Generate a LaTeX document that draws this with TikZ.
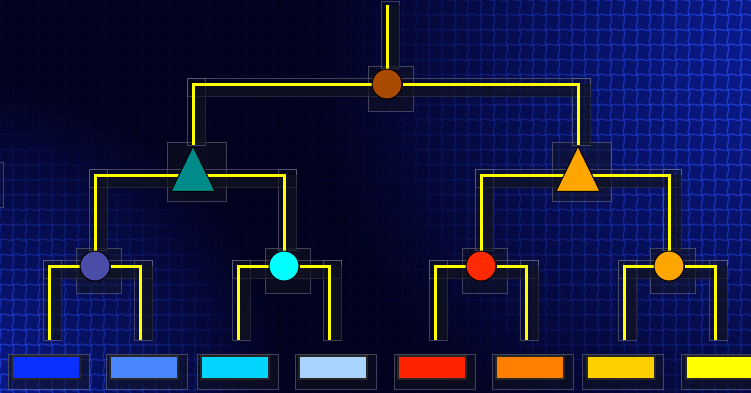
\documentclass[tikz,border=0pt]{standalone}
\usepackage{xcolor}
\usepackage{tikz}
\usetikzlibrary{positioning, calc, shapes.geometric}

\definecolor{bgdark}{HTML}{02021E}
\definecolor{glow}{HTML}{0B1C96}
\definecolor{meshblue}{HTML}{2446E8}
\definecolor{shd}{HTML}{12141F}
\definecolor{frm}{HTML}{7A7C94}
\definecolor{wireyel}{HTML}{FFFF00}
\definecolor{rootbrown}{HTML}{A84A00}
\definecolor{tealtri}{HTML}{008B8B}
\definecolor{orangetri}{HTML}{FFA500}
\definecolor{slatec}{HTML}{4A4CA8}
\definecolor{cyanc}{HTML}{00FFFF}
\definecolor{redc}{HTML}{FF2A00}
\definecolor{orangec}{HTML}{FFA500}
\definecolor{leafA}{HTML}{0A30FF}
\definecolor{leafB}{HTML}{4A86FF}
\definecolor{leafC}{HTML}{00D4FF}
\definecolor{leafD}{HTML}{A8D4FF}
\definecolor{leafE}{HTML}{FF2400}
\definecolor{leafF}{HTML}{FF7F00}
\definecolor{leafG}{HTML}{FFD000}
\definecolor{leafH}{HTML}{FFFF00}

\pgfdeclarelayer{back}
\pgfdeclarelayer{under}
\pgfsetlayers{back,under,main}

\begin{document}
\begin{tikzpicture}[
  x=0.5pt, y=-0.5pt,
  bub/.style={circle, draw=black, line width=0.5pt, minimum size=15pt, inner sep=0pt},
  tri/.style={isosceles triangle, shape border rotate=90, isosceles triangle stretches,
    draw=black, line width=0.5pt, minimum width=22pt, minimum height=22.5pt, inner sep=0pt, anchor=apex},
  leaf/.style={rectangle, draw=black!85, line width=1pt, minimum width=34pt, minimum height=11.5pt, inner sep=0pt},
  wire/.style={draw=wireyel, line width=1.5pt},
  band/.style={draw=shd, line width=6.5pt, opacity=0.6},
  frame/.style={draw=frm, line width=0.35pt, fill=shd, fill opacity=0.25, draw opacity=0.5},
  mesh/.style={draw=meshblue, line width=0.75pt}
]
  \useasboundingbox (0,0) rectangle (751,392);

  % background with mesh
  \begin{pgfonlayer}{back}
    \fill[bgdark] (-10,-10) rectangle (761,402);
    \shade[inner color=glow, outer color=bgdark] (790,50) circle[radius=480];
    \shade[inner color=glow, outer color=bgdark] (-40,410) circle[radius=330];
    \foreach \i in {0,...,58}{
      \foreach \j in {0,...,26}{
        \pgfmathsetmacro\mx{\i*13}
        \pgfmathsetmacro\my{\j*15}
        \pgfmathsetmacro\ma{0.85*max(0.04, 1-veclen(\mx-790,\my-50)/440, 1-veclen(\mx+40,\my-410)/300)}
        \draw[mesh, opacity=\ma] (\mx,\my) .. controls ({\mx+4},{\my-3}) and ({\mx+9},{\my+2}) .. ({\mx+13},\my);
        \draw[mesh, opacity=\ma] (\mx,\my) .. controls ({\mx+3},{\my+5}) and ({\mx-3},{\my+10}) .. (\mx,{\my+15});
      }
    }
  \end{pgfonlayer}

  % tree nodes
  \node[bub, fill=rootbrown] (root) at (387,84) {};
  \node[tri, fill=tealtri] (tl) at (193,145) {};
  \node[tri, fill=orangetri] (tr) at (578,145) {};
  \node[bub, fill=slatec] (c1) at (95,266) {};
  \node[bub, fill=cyanc] (c2) at (284,266) {};
  \node[bub, fill=redc] (c3) at (481,266) {};
  \node[bub, fill=orangec] (c4) at (669,266) {};

  % leaves
  \node[leaf, fill=leafA] (l1) at (46,367.5) {};
  \node[leaf, fill=leafB] (l2) at (144,367.5) {};
  \node[leaf, fill=leafC] (l3) at (235,367.5) {};
  \node[leaf, fill=leafD] (l4) at (333,367.5) {};
  \node[leaf, fill=leafE] (l5) at (432,367.5) {};
  \node[leaf, fill=leafF] (l6) at (530,367.5) {};
  \node[leaf, fill=leafG] (l7) at (620.5,367.5) {};
  \node[leaf, fill=leafH] (l8) at (719.5,367.5) {};

  % wire ends
  \coordinate (top) at (387,5);
  \coordinate (tlj) at ($(tl.apex)+(0,30)$);
  \coordinate (trj) at ($(tr.apex)+(0,30)$);
  \coordinate (b1) at ([xshift=1.5pt,yshift=7.5pt]l1.north);
  \coordinate (b2) at ([xshift=-2pt,yshift=7.5pt]l2.north);
  \coordinate (b3) at ([xshift=1.75pt,yshift=7.5pt]l3.north);
  \coordinate (b4) at ([xshift=-2pt,yshift=7.5pt]l4.north);
  \coordinate (b5) at ([xshift=1.5pt,yshift=7.5pt]l5.north);
  \coordinate (b6) at ([xshift=-2pt,yshift=7.5pt]l6.north);
  \coordinate (b7) at ([xshift=1.75pt,yshift=7.5pt]l7.north);
  \coordinate (b8) at ([xshift=-2.25pt,yshift=7.5pt]l8.north);

  \begin{pgfonlayer}{under}
    % panels behind nodes
    \foreach \n in {root,c1,c2,c3,c4}
      \draw[frame, fill opacity=0.5] ($(\n)+(-19,-18)$) rectangle ($(\n)+(26,27)$);
    \foreach \n in {tl,tr}
      \draw[frame, fill opacity=0.5] ($(\n.apex)+(-26,-3)$) rectangle ($(\n.apex)+(33,56)$);
    \foreach \n in {l1,l2,l3,l4,l5,l6,l7,l8}
      \draw[frame, fill opacity=0.55] ($(\n)+(-38,-13.5)$) rectangle ($(\n)+(43,21.5)$);
    \draw[frame] (-10,162) rectangle (3,207);

    % boxes and shadows along the wires
    \draw[frame] ($(top)+(-6,-4)$) rectangle ($(root.north)+(12,0)$);
    \draw[band] ($(top)+(6,0)$) -- ($(root)+(6,0)$);
    \foreach \pa/\ch/\sd in {root/tl.apex/-6, root/tr.apex/12, tlj/c1.north/-6, tlj/c2.north/12,
        trj/c3.north/-6, trj/c4.north/12, c1/b1/-6, c1/b2/12, c2/b3/-6, c2/b4/12,
        c3/b5/-6, c3/b6/12, c4/b7/-6, c4/b8/12}{
      \draw[frame] ($(\pa)+(0,-6)$) rectangle ($(\ch |- \pa)+(\sd,12)$);
      \draw[frame] ($(\ch |- \pa)+(-6,-6)$) rectangle ($(\ch)+(12,0)$);
      \draw[band] ($(\pa)+(6,6)$) -| ($(\ch)+(6,0)$);
    }

    % yellow wires
    \draw[wire] (top) -- (root);
    \draw[wire] (root) -| (tl.apex);
    \draw[wire] (root) -| (tr.apex);
    \draw[wire] (tlj) -| (c1);
    \draw[wire] (tlj) -| (c2);
    \draw[wire] (trj) -| (c3);
    \draw[wire] (trj) -| (c4);
    \draw[wire] (c1) -| (b1);
    \draw[wire] (c1) -| (b2);
    \draw[wire] (c2) -| (b3);
    \draw[wire] (c2) -| (b4);
    \draw[wire] (c3) -| (b5);
    \draw[wire] (c3) -| (b6);
    \draw[wire] (c4) -| (b7);
    \draw[wire] (c4) -| (b8);
  \end{pgfonlayer}
\end{tikzpicture}
\end{document}
